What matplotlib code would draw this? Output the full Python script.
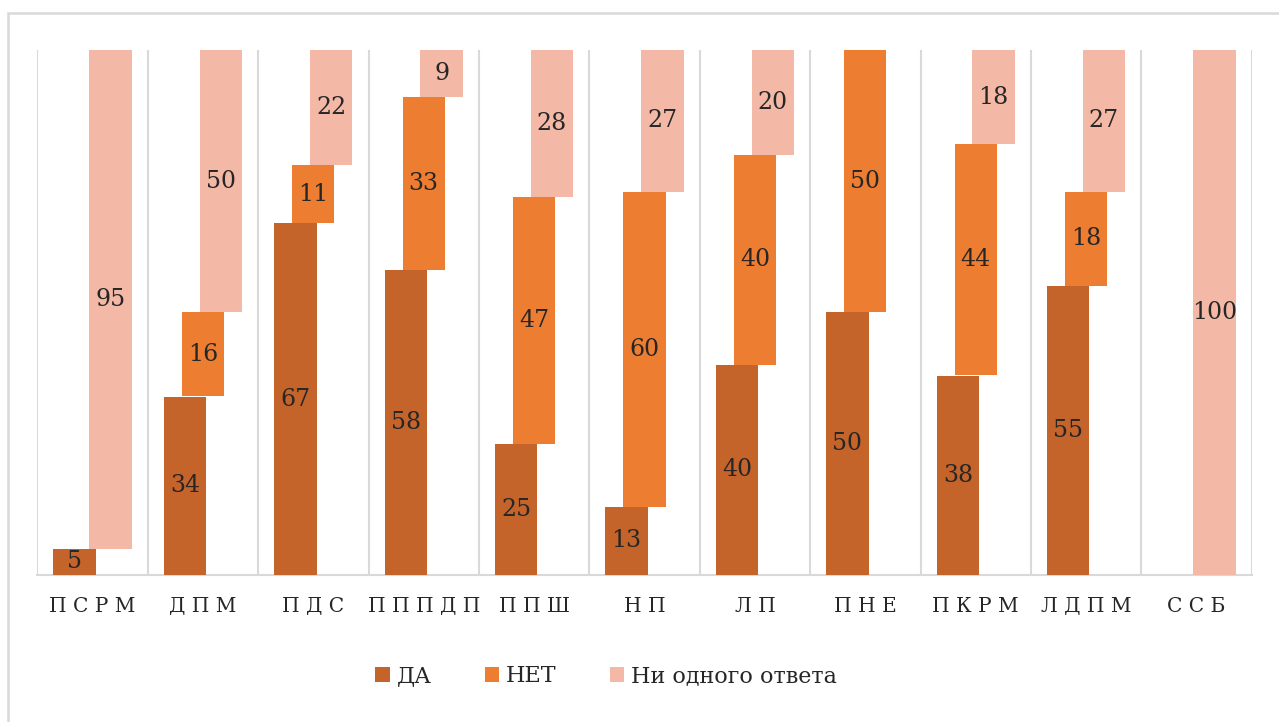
import matplotlib
matplotlib.use("Agg")
import matplotlib.pyplot as plt
from matplotlib.patches import Patch, Rectangle
import numpy as np

categories = ["П С Р М", "Д П М", "П Д С", "П П П Д П", "П П Ш", "Н П",
              "Л П", "П Н Е", "П К Р М", "Л Д П М", "С С Б"]
da = [5, 34, 67, 58, 25, 13, 40, 50, 38, 55, 0]
net = [0, 16, 11, 33, 47, 60, 40, 50, 44, 18, 0]
none = [95, 50, 22, 9, 28, 27, 20, 0, 18, 27, 100]
series_names = ["ДА", "НЕТ", "Ни одного ответа"]
colors = ["#C5642A", "#ED7D31", "#F4B9A6"]

W, H = 1279, 722
fig = plt.figure(figsize=(W / 100, H / 100), dpi=100)
ax = fig.add_axes([37.3 / W, 1 - 575 / H, (1251.7 - 37.3) / W, (575 - 50) / H])

x = np.arange(len(categories))
da_a = np.array(da, float)
net_a = np.array(net, float)
none_a = np.array(none, float)
bottoms = [np.zeros_like(da_a), da_a, da_a + net_a]
vals = [da_a, net_a, none_a]
offsets = [-0.162, 0.0, 0.162]
width = 0.383

serif = "DejaVu Serif"
for v, b, off, c in zip(vals, bottoms, offsets, colors):
    bars = ax.bar(x + off, v, width, bottom=b, color=c, zorder=3)
    for rect, val in zip(bars, v):
        if val > 0:
            ax.text(rect.get_x() + rect.get_width() / 2,
                    rect.get_y() + rect.get_height() / 2,
                    f"{int(val)}", ha="center", va="center",
                    fontsize=17, family=serif, color="#262626", zorder=4)

ax.set_xlim(-0.5, len(categories) - 0.5)
ax.set_ylim(0, 100)
ax.set_yticks([])
ax.set_xticks(x)
ax.set_xticklabels(categories, fontsize=14.5, family=serif, color="#262626")
ax.tick_params(axis="x", length=0, pad=16)
for b in np.arange(-0.5, len(categories), 1.0):
    ax.axvline(b, color="#d9d9d9", lw=1.5, zorder=1)
for s in ["top", "left", "right"]:
    ax.spines[s].set_visible(False)
ax.spines["bottom"].set_color("#d9d9d9")
ax.spines["bottom"].set_linewidth(1.5)

handles = [Patch(facecolor=c, edgecolor="none") for c in colors]
fig.legend(handles, series_names, loc="center",
           bbox_to_anchor=(606 / W, 1 - 676 / H), ncol=3, frameon=False,
           prop={"family": serif, "size": 16}, handlelength=0.65,
           handleheight=0.65, handletextpad=0.3, columnspacing=2.4,
           labelcolor="#262626")

fig.patches.append(Rectangle((8 / W, -0.1), 2.0, 1.1 - 13 / H,
                             transform=fig.transFigure, fill=False,
                             edgecolor="#d9d9d9", lw=1.8))

fig.savefig("out.png", dpi=100)
